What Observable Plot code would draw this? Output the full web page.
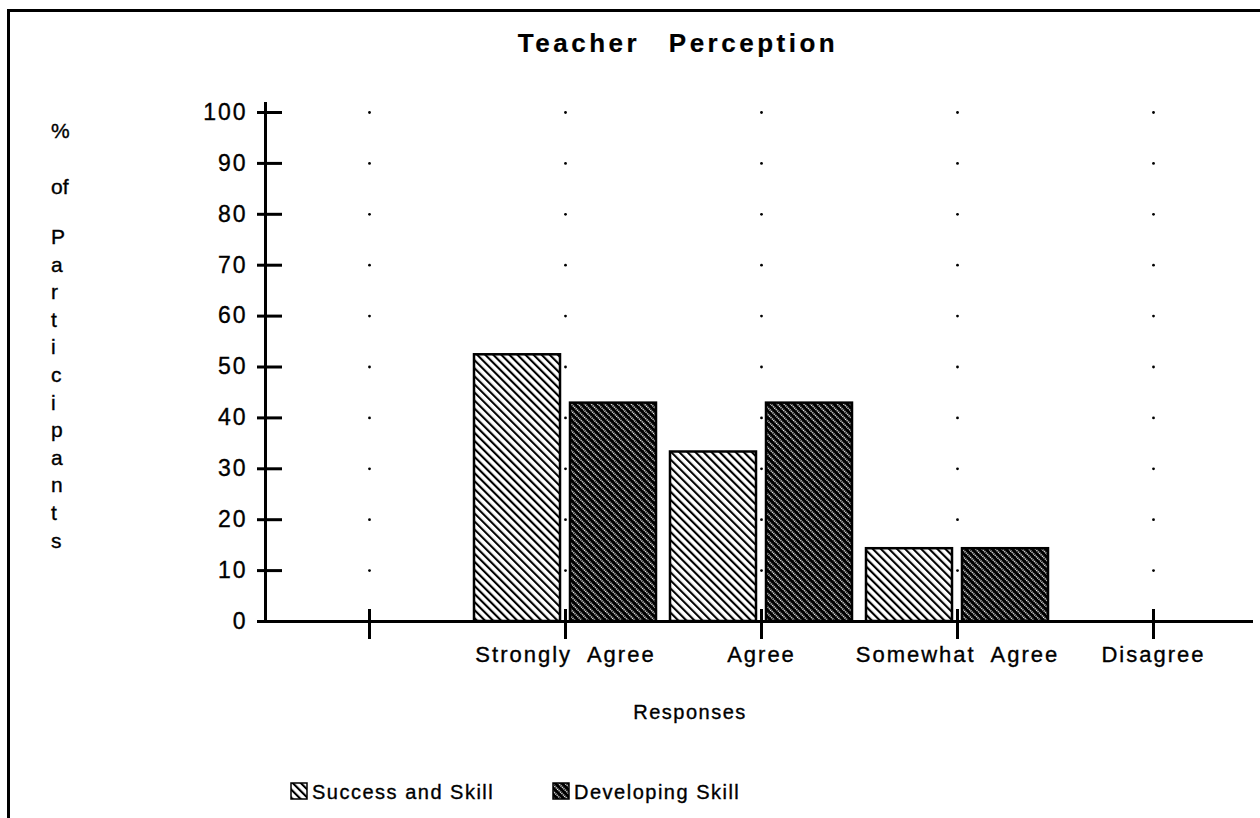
<!DOCTYPE html>
<html><head><meta charset="utf-8">
<script src="https://cdn.jsdelivr.net/npm/d3@7"></script>
<script src="https://cdn.jsdelivr.net/npm/@observablehq/plot@0.6"></script>
<style>
body{margin:0;background:#fff;}
#wrap{position:relative;width:1260px;height:818px;overflow:hidden;background:#fff;}
#chart, #overlay{position:absolute;left:0;top:0;}
#overlay{pointer-events:none;}
#chart g[aria-label="y-axis tick label"] text{letter-spacing:2px;stroke:#000;stroke-width:0.35px;}
#chart g[aria-label="x-axis tick label"] text{letter-spacing:2px;word-spacing:8px;stroke:#000;stroke-width:0.35px;}
#overlay text{font-family:"Liberation Sans",Arial,sans-serif;fill:#000;stroke:#000;stroke-width:0.35px;}
</style></head>
<body>
<div id="wrap">
<div id="chart"></div>
<svg id="overlay" width="1260" height="818" xmlns="http://www.w3.org/2000/svg">
  <defs>
    <pattern id="hatchLight" patternUnits="userSpaceOnUse" width="5.7" height="4" patternTransform="rotate(-45)">
      <rect width="5.7" height="4" fill="#fff"/>
      <rect x="0" y="0" width="2.1" height="4" fill="#000"/>
    </pattern>
    <pattern id="hatchDark" patternUnits="userSpaceOnUse" width="4.7" height="2" patternTransform="rotate(-45)">
      <rect width="4.7" height="2" fill="#000"/>
      <rect x="0" y="0" width="1.5" height="1.2" fill="#fff"/>
    </pattern>
  </defs>
</svg>
</div>
<script>
// ---- data ----
const categories = ["", "Strongly Agree", "Agree", "Somewhat Agree", "Disagree"];
const responses = ["Strongly Agree", "Agree", "Somewhat Agree", "Disagree"];
const successAndSkill = [52.4, 33.3, 14.3, 0];
const developingSkill = [42.9, 42.9, 14.3, 0];
const yTicks = [0, 10, 20, 30, 40, 50, 60, 70, 80, 90, 100];
const seriesNames = ["Success and Skill", "Developing Skill"];
const titleText = "Teacher Perception";
const xLabel = "Responses";
const yLabelLines = ["%", "of", "P", "a", "r", "t", "i", "c", "i", "p", "a", "n", "t", "s"];

const rows = vals => responses.map((r, i) => ({response: r, value: vals[i]}));
const grid = categories.flatMap(c => yTicks.filter(v => v > 0).map(v => ({c, v})));
const font = '"Liberation Sans", Arial, sans-serif';

const plot = Plot.plot({
  width: 1260, height: 818,
  marginTop: 103, marginBottom: 197, marginLeft: 265, marginRight: 7,
  style: {fontFamily: font, fontSize: "22px", color: "#000", background: "transparent"},
  x: {type: "band", domain: categories, padding: 0, insetLeft: 4, label: null},
  y: {domain: [0, 100], insetTop: 9, label: null},
  marks: [
    Plot.dot(grid, {x: "c", y: "v", r: 1.4, fill: "#000"}),
    Plot.barY(rows(successAndSkill), {x: "response", y: "value", fill: "url(#hatchLight)", stroke: "#000", strokeWidth: 2.5, insetLeft: 7, insetRight: 103}),
    Plot.barY(rows(developingSkill), {x: "response", y: "value", fill: "url(#hatchDark)", stroke: "#000", strokeWidth: 2.5, insetLeft: 103, insetRight: 7}),
    Plot.frame({anchor: "left", strokeWidth: 3}),
    Plot.ruleY([0], {strokeWidth: 3}),
    Plot.axisY(yTicks, {tickSize: 25, dx: 17, tickPadding: 10, strokeWidth: 3, fontSize: 23, tickFormat: d => String(d)}),
    Plot.axisX(categories, {tickSize: 30, dy: -12, tickPadding: 7, strokeWidth: 3, fontSize: 22, label: null})
  ]
});
document.getElementById("chart").appendChild(plot);

// ---- overlay: frame, title, axis labels, legend ----
const ov = d3.select("#overlay");
ov.append("path").attr("d", "M8.5,830 L8.5,10.5 L1270,10.5").attr("fill", "none").attr("stroke", "#000").attr("stroke-width", 3);

ov.append("text").attr("x", 678).attr("y", 52).attr("text-anchor", "middle")
  .style("font-size", "26px").style("font-weight", "bold").style("letter-spacing", "3.5px").style("word-spacing", "18px")
  .style("stroke-width", "0.2px")
  .text(titleText);

const yPos = [131, 187, 237];
for (let i = 3; i < yLabelLines.length; i++) yPos.push(237 + (i - 2) * 27.6);
yLabelLines.forEach((t, i) => {
  ov.append("text").attr("x", 51).attr("y", yPos[i] + 7).style("font-size", "21px").text(t);
});

ov.append("text").attr("x", 690).attr("y", 719).attr("text-anchor", "middle")
  .style("font-size", "20px").style("letter-spacing", "1.5px").text(xLabel);

const legendItems = [
  {name: seriesNames[0], fill: "url(#hatchLight)", sx: 291, tx: 312},
  {name: seriesNames[1], fill: "url(#hatchDark)", sx: 553, tx: 574}
];
legendItems.forEach(d => {
  ov.append("rect").attr("x", d.sx).attr("y", 783).attr("width", 16).attr("height", 16)
    .attr("fill", d.fill).attr("stroke", "#000").attr("stroke-width", 1.5);
  ov.append("text").attr("x", d.tx).attr("y", 799).style("font-size", "20px").style("letter-spacing", "1.5px").text(d.name);
});
</script>
</body></html>
